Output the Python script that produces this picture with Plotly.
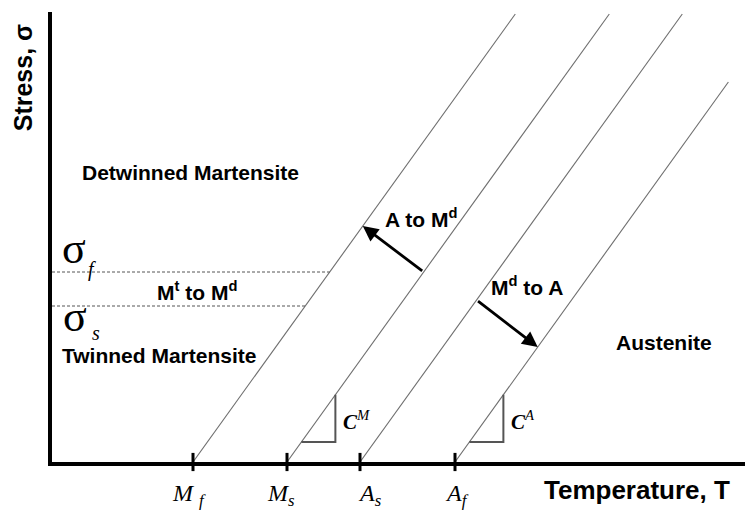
import plotly.graph_objects as go

# ---- data (schematic units) ----
temp_names = ["Mf", "Ms", "As", "Af"]
temp_ticks = [14.1, 23.5, 30.8, 40.3]
tick_text = ["<i>M</i> <sub><i>f</i></sub>", "<i>M</i><sub><i>s</i></sub>",
             "<i>A</i><sub><i>s</i></sub>", "<i>A</i><sub><i>f</i></sub>"]
slope_CM = 1.39
slope_CA = 1.39
line_slopes = [slope_CM, slope_CM, slope_CA, slope_CA]
line_top_stress = [44.8, 44.8, 44.8, 38.0]
sigma_s = 15.6
sigma_f = 19.0
tri_base_stress = 2.0
tri_run = 3.4
# arrows: (start line index, start stress, end line index, end stress)
arrow_A_to_Md = (1, 19.0, 0, 23.6)
arrow_Md_to_A = (2, 16.2, 3, 11.5)

SANS = "Liberation Sans, Arial, sans-serif"
SERIF = "Liberation Serif, Times New Roman, serif"

fig = go.Figure()

# transformation lines
for T0, s, top in zip(temp_ticks, line_slopes, line_top_stress):
    fig.add_trace(go.Scatter(x=[T0, T0 + top / s], y=[0, top], mode="lines",
                             line=dict(color="#6e6e6e", width=1.1),
                             hoverinfo="skip", showlegend=False))

# critical stress dashed lines
for sig in [sigma_f, sigma_s]:
    fig.add_trace(go.Scatter(x=[0, temp_ticks[0] + sig / slope_CM], y=[sig, sig], mode="lines",
                             line=dict(color="#555555", width=1, dash="3px,2px"),
                             hoverinfo="skip", showlegend=False))

# slope triangles
for idx in [1, 3]:
    T0 = temp_ticks[idx] + tri_base_stress / line_slopes[idx]
    T1 = T0 + tri_run
    top = tri_base_stress + tri_run * line_slopes[idx]
    fig.add_trace(go.Scatter(x=[T1, T1, T0], y=[top, tri_base_stress, tri_base_stress],
                             mode="lines", line=dict(color="#555555", width=2),
                             hoverinfo="skip", showlegend=False))

# tick marks crossing the axis
fig.add_trace(go.Scatter(x=temp_ticks, y=[0] * 4, mode="markers", cliponaxis=False,
                         marker=dict(symbol="line-ns", size=13,
                                     line=dict(color="black", width=3)),
                         hoverinfo="skip", showlegend=False))


def on_line(i, sig):
    return temp_ticks[i] + sig / line_slopes[i]


for (i0, s0, i1, s1) in [arrow_A_to_Md, arrow_Md_to_A]:
    fig.add_annotation(x=on_line(i1, s1), y=s1, ax=on_line(i0, s0), ay=s0,
                       xref="x", yref="y", axref="x", ayref="y", text="",
                       showarrow=True, arrowhead=2, arrowsize=1.1, arrowwidth=2.8,
                       arrowcolor="black", standoff=0)

bold = dict(family=SANS, size=21, color="black", weight=700)
texts = [
    ("Detwinned Martensite", 13.8, 29.0),
    ("Twinned Martensite", 10.7, 10.7),
    ("M<sup>t</sup> to M<sup>d</sup>", 14.5, 17.1),
    ("A to M<sup>d</sup>", 36.9, 24.4),
    ("M<sup>d</sup> to A", 47.5, 17.6),
    ("Austenite", 61.2, 12.0),
]
for t, x, y in texts:
    fig.add_annotation(x=x, y=y, text=t, showarrow=False, font=bold,
                       xanchor="center", yanchor="middle")

# sigma labels
fig.add_annotation(x=2.2, y=21.4, text="σ", showarrow=False,
                   font=dict(family=SERIF, size=44, color="black"))
fig.add_annotation(x=4.0, y=19.3, text="<i>f</i>", showarrow=False,
                   font=dict(family=SERIF, size=20, color="black"))
fig.add_annotation(x=2.3, y=14.6, text="σ", showarrow=False,
                   font=dict(family=SERIF, size=44, color="black"))
fig.add_annotation(x=4.4, y=12.9, text="<i>s</i>", showarrow=False,
                   font=dict(family=SERIF, size=20, color="black"))

# slope labels
for idx, name in [(1, "M"), (3, "A")]:
    T1 = temp_ticks[idx] + tri_base_stress / line_slopes[idx] + tri_run
    fig.add_annotation(x=T1 + 0.6, y=4.2, text=f"<b><i>C</i></b><sup><i>{name}</i></sup>",
                       showarrow=False, xanchor="left",
                       font=dict(family=SERIF, size=21, color="black"))

# temperature tick labels
tick_shift = [-4, -6, 10, 2]
for T, lab, sh in zip(temp_ticks, tick_text, tick_shift):
    fig.add_annotation(x=T, y=-0.073, xref="x", yref="paper", text=lab, showarrow=False,
                       xshift=sh, xanchor="center", yanchor="middle",
                       font=dict(family=SERIF, size=24, color="black"))

# axis titles
fig.add_annotation(x=-0.041, y=38.4, xref="paper", yref="y", text="Stress, σ",
                   textangle=-90, showarrow=False, xanchor="center", yanchor="middle",
                   font=dict(family=SANS, size=25, color="black", weight=700))
fig.add_annotation(x=58.5, y=-0.062, xref="x", yref="paper", text="Temperature, T",
                   showarrow=False, xanchor="center", yanchor="middle",
                   font=dict(family=SANS, size=26, color="black", weight=700))

# page body has an 8px default margin; figure sized so the plot area lands where the reference has it
fig.update_layout(
    width=745, height=503,
    margin=dict(l=44, r=0, t=4, b=49, autoexpand=False),
    plot_bgcolor="white", paper_bgcolor="white",
    xaxis=dict(range=[0, 70.1], showgrid=False, zeroline=False, showline=True,
               linecolor="black", linewidth=4, showticklabels=False, ticks="",
               automargin=False),
    yaxis=dict(range=[0, 45], showgrid=False, zeroline=False, showline=True,
               linecolor="black", linewidth=4, showticklabels=False, ticks="",
               automargin=False),
)

fig.write_html("out.html")
